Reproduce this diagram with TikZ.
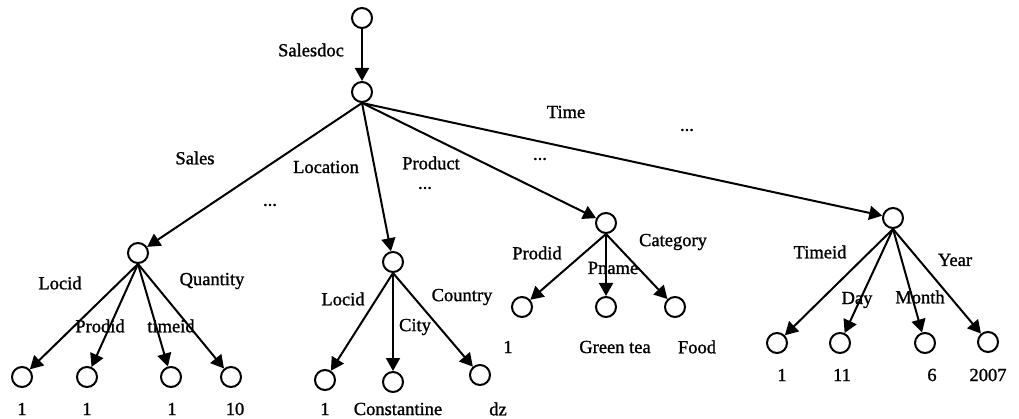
\documentclass[tikz,border=0pt]{standalone}
\usepackage{fontspec}
\setmainfont[FakeBold=1.2,AutoFakeBold=1.2]{Liberation Serif}
\usetikzlibrary{arrows.meta}

\begin{document}
\begin{tikzpicture}[x=1pt,y=-1pt,
  vertex/.style={draw,circle,line width=2pt,minimum size=20pt,inner sep=0pt},
  lbl/.style={font=\fontsize{18.5}{20}\selectfont\bfseries,inner sep=0pt},
  arc/.style={line width=2pt,-{Triangle[length=13pt,width=14pt]}}]
\useasboundingbox (0,0) rectangle (1019,419);
% upper part
\node[vertex] (top) at (362,18) {};
\node[vertex] (root) at (362,92) {};
\node[vertex] (sales) at (138,253) {};
\node[vertex] (loc) at (393,262) {};
\node[vertex] (prod) at (606,223) {};
\node[vertex] (time) at (893,218) {};
\draw[arc] (top) -- (root);
\draw[arc] (root.south) -- (sales);\draw[arc] (root.south) -- (loc);\draw[arc] (root.south) -- (prod);\draw[arc] (root.south) -- (time);
\node[lbl] (lsalesdoc) at (311,50) {Salesdoc};
\node[lbl] (lsales) at (195,158) {Sales};
\node[lbl] (lloc) at (326,167) {Location};
\node[lbl] (lprod) at (431,163) {Product};
\node[lbl] (ltime) at (566,112) {Time};
\node[lbl] (d1) at (270,205) {...};\node[lbl] (d2) at (425,188) {...};
\node[lbl] (d3) at (540,159) {...};\node[lbl] (d4) at (687,130) {...};
% sales
\node[vertex] (s1) at (22,377) {};\node[vertex] (s2) at (87,377) {};
\node[vertex] (s3) at (171,377) {};\node[vertex] (s4) at (231,377) {};
\draw[arc] (sales.south) -- (s1);\draw[arc] (sales.south) -- (s2);\draw[arc] (sales.south) -- (s3);\draw[arc] (sales.south) -- (s4);
\node[lbl] at (60,283) {Locid};\node[lbl] at (100,326) {Prodid};
\node[lbl] at (171,326) {timeid};\node[lbl] at (212,281) {Quantity};
\node[lbl] (v1) at (22,409) {1};\node[lbl] (v2) at (87,409) {1};
\node[lbl] (v3) at (172,409) {1};\node[lbl] (v4) at (235,409) {10};
% location
\node[vertex] (c1) at (325,380) {};\node[vertex] (c2) at (393,382) {};\node[vertex] (c3) at (480,375) {};
\draw[arc] (loc.south) -- (c1);\draw[arc] (loc.south) -- (c2);\draw[arc] (loc.south) -- (c3);
\node[lbl] at (343,299) {Locid};\node[lbl] at (415,327) {City};\node[lbl] at (462,297) {Country};
\node[lbl] (w1) at (325,409) {1};\node[lbl] (w2) at (398,409) {Constantine};\node[lbl] (w3) at (498,409) {dz};
% product
\node[vertex] (p1) at (522,307) {};\node[vertex] (p2) at (606,307) {};\node[vertex] (p3) at (675,307) {};
\draw[arc] (prod.south) -- (p1);\draw[arc] (prod.south) -- (p2);\draw[arc] (prod.south) -- (p3);
\node[lbl] at (537,253) {Prodid};\node[lbl] at (613,268) {Pname};\node[lbl] at (673,242) {Category};
\node[lbl] (u1) at (508,347) {1};\node[lbl] (u2) at (615,347) {Green tea};\node[lbl] (u3) at (697,347) {Food};
% time
\node[vertex] (t1) at (777,343) {};\node[vertex] (t2) at (840,343) {};
\node[vertex] (t3) at (925,343) {};\node[vertex] (t4) at (988,342) {};
\draw[arc] (time.south) -- (t1);\draw[arc] (time.south) -- (t2);\draw[arc] (time.south) -- (t3);\draw[arc] (time.south) -- (t4);
\node[lbl] at (820,252) {Timeid};\node[lbl] at (857,300) {Day};
\node[lbl] at (920,297) {Month};\node[lbl] at (955,260) {Year};
\node[lbl] (x1) at (782,375) {1};\node[lbl] (x2) at (842,375) {11};
\node[lbl] (x3) at (932,375) {6};\node[lbl] (x4) at (988,375) {2007};
\end{tikzpicture}
\end{document}
